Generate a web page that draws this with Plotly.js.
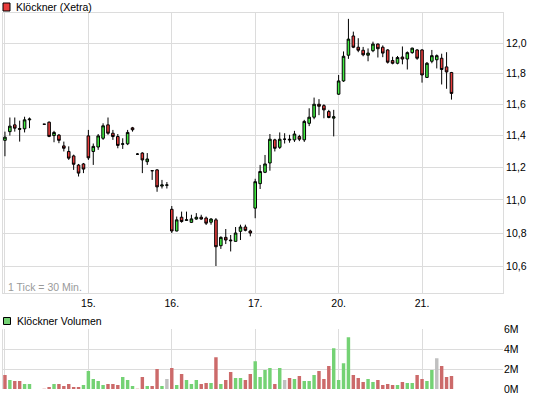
<!DOCTYPE html>
<html>
<head>
<meta charset="utf-8">
<script src="https://cdn.plot.ly/plotly-3.0.1.min.js"></script>
<style>html,body{margin:0;padding:0;background:#fff;}#chart{width:545px;height:398px;}</style>
</head>
<body>
<div id="chart"></div>
<script>
// ---- data ----
const days = ['14.', '15.', '16.', '17.', '20.', '21.'];
const times = ['09:00','09:30','10:00','10:30','11:00','11:30','12:00','12:30','13:00','13:30','14:00','14:30','15:00','15:30','16:00','16:30','17:00'];
const dayLabels = ['', '15.', '16.', '17.', '20.', '21.'];
const priceTicks = [10.6, 10.8, 11.0, 11.2, 11.4, 11.6, 11.8, 12.0];
const priceTickText = ['10,6', '10,8', '11,0', '11,2', '11,4', '11,6', '11,8', '12,0'];
const volTicks = [0, 2e6, 4e6, 6e6];
const volTickText = ['0M', '2M', '4M', '6M'];

const stamp = [
 '14. 09:00','14. 09:30','14. 10:00','14. 10:30','14. 11:00','14. 11:30','14. 13:00','14. 13:30','14. 14:00','14. 14:30','14. 15:00','14. 15:30','14. 16:00','14. 16:30','14. 17:00',
 '15. 09:00','15. 09:30','15. 10:00','15. 10:30','15. 11:00','15. 11:30','15. 12:00','15. 12:30','15. 13:00','15. 13:30','15. 14:00','15. 14:30','15. 15:00','15. 15:30','15. 16:00','15. 16:30','15. 17:00',
 '16. 09:00','16. 09:30','16. 10:00','16. 10:30','16. 11:00','16. 11:30','16. 12:00','16. 12:30','16. 13:00','16. 13:30','16. 14:00','16. 14:30','16. 15:00','16. 15:30','16. 16:00','16. 16:30','16. 17:00',
 '17. 09:00','17. 09:30','17. 10:00','17. 10:30','17. 11:00','17. 11:30','17. 12:00','17. 12:30','17. 13:00','17. 13:30','17. 14:00','17. 14:30','17. 15:00','17. 15:30','17. 16:00','17. 16:30','17. 17:00',
 '20. 09:00','20. 09:30','20. 10:00','20. 10:30','20. 11:00','20. 11:30','20. 12:00','20. 12:30','20. 13:00','20. 13:30','20. 14:00','20. 14:30','20. 15:00','20. 15:30','20. 16:00','20. 16:30','20. 17:00',
 '21. 09:00','21. 09:30','21. 10:00','21. 10:30','21. 11:00','21. 11:30','21. 12:00'
];
const open = [
 11.370,11.425,11.468,11.445,11.443,11.500,11.472,11.485,11.400,11.403,11.335,11.300,11.272,11.215,11.222,
 11.398,11.300,11.328,11.383,11.468,11.415,11.394,11.345,11.348,11.449,11.283,11.290,11.236,11.180,11.185,11.085,11.090,
 10.943,10.812,10.895,10.876,10.864,10.884,10.895,10.890,10.865,10.879,10.724,10.774,10.758,10.750,10.810,10.836,10.812,
 10.950,11.100,11.170,11.228,11.373,11.326,11.377,11.377,11.373,11.394,11.373,11.478,11.517,11.600,11.591,11.553,11.511,
 11.665,11.751,11.920,12.048,11.973,11.953,11.920,11.950,11.994,11.973,11.955,11.885,11.867,11.908,11.895,11.937,11.955,
 11.955,11.774,11.880,11.890,11.900,11.843,11.806
];
const high = [
 11.425,11.515,11.515,11.495,11.520,11.515,11.472,11.490,11.430,11.410,11.362,11.332,11.280,11.222,11.228,
 11.436,11.350,11.410,11.478,11.515,11.436,11.410,11.383,11.436,11.455,11.290,11.295,11.290,11.180,11.190,11.123,11.110,
 10.963,10.899,10.929,10.929,10.910,10.920,10.910,10.899,10.890,10.890,10.780,10.824,10.788,10.836,10.850,10.850,10.820,
 11.130,11.216,11.278,11.410,11.380,11.420,11.415,11.405,11.430,11.405,11.500,11.574,11.643,11.633,11.600,11.564,11.564,
 11.790,11.945,12.163,12.077,12.033,11.975,11.965,12.010,11.998,11.985,11.960,11.910,11.915,11.978,11.945,11.970,11.960,
 11.960,11.875,11.955,11.925,11.930,11.940,11.810
];
const low = [
 11.270,11.400,11.425,11.362,11.420,11.447,11.472,11.390,11.358,11.352,11.300,11.247,11.185,11.144,11.165,
 11.247,11.216,11.310,11.373,11.405,11.373,11.320,11.316,11.340,11.425,11.278,11.165,11.216,11.123,11.050,11.070,11.070,
 10.800,10.810,10.862,10.873,10.860,10.880,10.880,10.848,10.850,10.604,10.705,10.734,10.690,10.750,10.758,10.810,10.780,
 10.889,11.067,11.165,11.180,11.300,11.316,11.350,11.355,11.360,11.365,11.360,11.460,11.504,11.530,11.510,11.510,11.395,
 11.660,11.745,11.896,11.967,11.940,11.913,11.880,11.940,11.905,11.907,11.865,11.860,11.860,11.860,11.826,11.930,11.890,
 11.740,11.770,11.867,11.833,11.728,11.700,11.630
];
const close = [
 11.390,11.460,11.447,11.440,11.500,11.505,11.472,11.395,11.420,11.370,11.320,11.258,11.220,11.165,11.190,
 11.260,11.332,11.398,11.462,11.415,11.394,11.338,11.348,11.420,11.437,11.283,11.247,11.253,11.180,11.080,11.092,11.092,
 10.812,10.879,10.869,10.879,10.885,10.895,10.884,10.859,10.884,10.718,10.774,10.758,10.754,10.800,10.836,10.816,10.800,
 11.112,11.175,11.222,11.377,11.320,11.377,11.377,11.373,11.410,11.377,11.490,11.517,11.600,11.587,11.564,11.515,11.520,
 11.751,11.913,12.027,11.973,11.953,11.923,11.934,11.994,11.963,11.934,11.874,11.867,11.905,11.895,11.937,11.967,11.900,
 11.790,11.867,11.917,11.917,11.826,11.810,11.670
];
const volume = [
 1.4,0.9,0.8,0.8,0.5,0.5,0.02,0.2,0.5,0.5,0.3,0.5,0.2,0.2,0.4,
 1.8,1.0,0.8,0.4,0.5,0.5,0.4,1.2,0.9,0.3,0.02,1.2,0.3,0.3,2.0,0.3,1.0,
 2.1,0.4,1.5,0.9,0.5,0.9,0.5,0.6,0.6,3.2,0.5,0.9,1.7,1.1,1.1,0.9,1.5,
 2.8,1.2,1.9,2.1,0.5,2.1,0.9,1.1,1.0,1.3,0.8,0.8,1.4,1.8,1.0,2.3,4.1,
 0.9,2.6,5.2,1.4,1.1,0.7,1.0,0.7,0.9,0.4,0.5,0.4,0.4,0.7,0.6,0.6,1.4,
 1.0,0.8,1.9,3.1,2.3,1.2,1.3
].map(v => v * 1e6);
const prevClose = 11.45; // close before the first bar

// ---- derived ----
const allSlots = [];
days.forEach(d => times.forEach(t => allSlots.push(d + ' ' + t)));
const dayStarts = days.map(d => d + ' ' + times[0]);
const volColors = close.map((c, i) => {
  const p = i === 0 ? prevClose : close[i - 1];
  return c > p ? '#74d274' : (c < p ? '#cc6a6a' : '#c0c0c0');
});

const W = 545, H = 398;
const px = x => x / W;
const py = y => (H - y) / H;
const FONT = 'Liberation Sans, Arial, sans-serif';
const GRID = '#dcdcdc';

const traces = [
  {
    type: 'candlestick', x: stamp, open: open, high: high, low: low, close: close,
    xaxis: 'x', yaxis: 'y', whiskerwidth: 0, hoverinfo: 'skip',
    increasing: { fillcolor: '#40ec40', line: { color: '#000000', width: 1 } },
    decreasing: { fillcolor: '#e83c3c', line: { color: '#000000', width: 1 } },
    showlegend: false
  },
  {
    type: 'bar', x: stamp, y: volume, xaxis: 'x2', yaxis: 'y2',
    marker: { color: volColors, line: { width: 0 } }, hoverinfo: 'skip', showlegend: false
  }
];

const xCommon = {
  type: 'category', categoryorder: 'array', categoryarray: allSlots,
  range: [-0.5, allSlots.length - 0.5], fixedrange: true,
  tickmode: 'array', tickvals: dayStarts, ticktext: dayLabels,
  showgrid: true, gridcolor: GRID, gridwidth: 1, ticks: '', zeroline: false,
  tickfont: { family: FONT, size: 10.5, color: '#000' }
};

const layout = {
  width: W, height: H, margin: { l: 0, r: 0, t: 0, b: 0 },
  paper_bgcolor: '#ffffff', plot_bgcolor: '#ffffff',
  showlegend: false, dragmode: false, bargap: 0.3, boxgap: 0.25,
  xaxis: Object.assign({}, xCommon, {
    domain: [px(2.5), px(503)], anchor: 'y',
    rangeslider: { visible: false },
    showline: true, linecolor: GRID, linewidth: 1, mirror: true
  }),
  yaxis: {
    type: 'log', domain: [py(293.3), py(13.3)], anchor: 'x', side: 'right',
    range: [1.018891, 1.08638], fixedrange: true,
    tickmode: 'array', tickvals: priceTicks, ticktext: priceTickText,
    showgrid: true, gridcolor: GRID, ticks: '', zeroline: false,
    showline: true, linecolor: GRID, linewidth: 1, mirror: true,
    tickfont: { family: FONT, size: 10.5, color: '#000' }
  },
  xaxis2: Object.assign({}, xCommon, {
    domain: [px(2.5), px(503)], anchor: 'y2', showticklabels: false
  }),
  yaxis2: {
    domain: [py(389), py(329.3)], anchor: 'x2', side: 'right',
    range: [0, 6e6], fixedrange: true,
    tickmode: 'array', tickvals: volTicks, ticktext: volTickText,
    showgrid: true, gridcolor: GRID, ticks: '', zeroline: false, showline: false,
    tickfont: { family: FONT, size: 10.5, color: '#000' }
  },
  shapes: [
    { type: 'line', xref: 'paper', yref: 'paper', x0: px(2.5), x1: px(2.5), y0: py(389), y1: py(329.3),
      line: { color: GRID, width: 1 } },
    { type: 'rect', xref: 'paper', yref: 'paper', x0: px(3), x1: px(10), y0: py(11), y1: py(3),
      fillcolor: '#e83c3c', line: { color: '#000', width: 1 } },
    { type: 'rect', xref: 'paper', yref: 'paper', x0: px(3.5), x1: px(10.5), y0: py(324.5), y1: py(317.5),
      fillcolor: '#74d274', line: { color: '#000', width: 1 } }
  ],
  annotations: [
    { xref: 'paper', yref: 'paper', x: px(14), y: py(7), xanchor: 'left', yanchor: 'middle',
      text: 'Klöckner (Xetra)', showarrow: false, font: { family: FONT, size: 10.5, color: '#000' } },
    { xref: 'paper', yref: 'paper', x: px(14.5), y: py(321), xanchor: 'left', yanchor: 'middle',
      text: 'Klöckner Volumen', showarrow: false, font: { family: FONT, size: 10.5, color: '#000' } },
    { xref: 'paper', yref: 'paper', x: px(6), y: py(287), xanchor: 'left', yanchor: 'middle',
      text: '1 Tick = 30 Min.', showarrow: false, font: { family: FONT, size: 10.5, color: '#9a9a9a' } }
  ]
};

Plotly.newPlot('chart', traces, layout, { staticPlot: true, displayModeBar: false });
</script>
</body>
</html>
